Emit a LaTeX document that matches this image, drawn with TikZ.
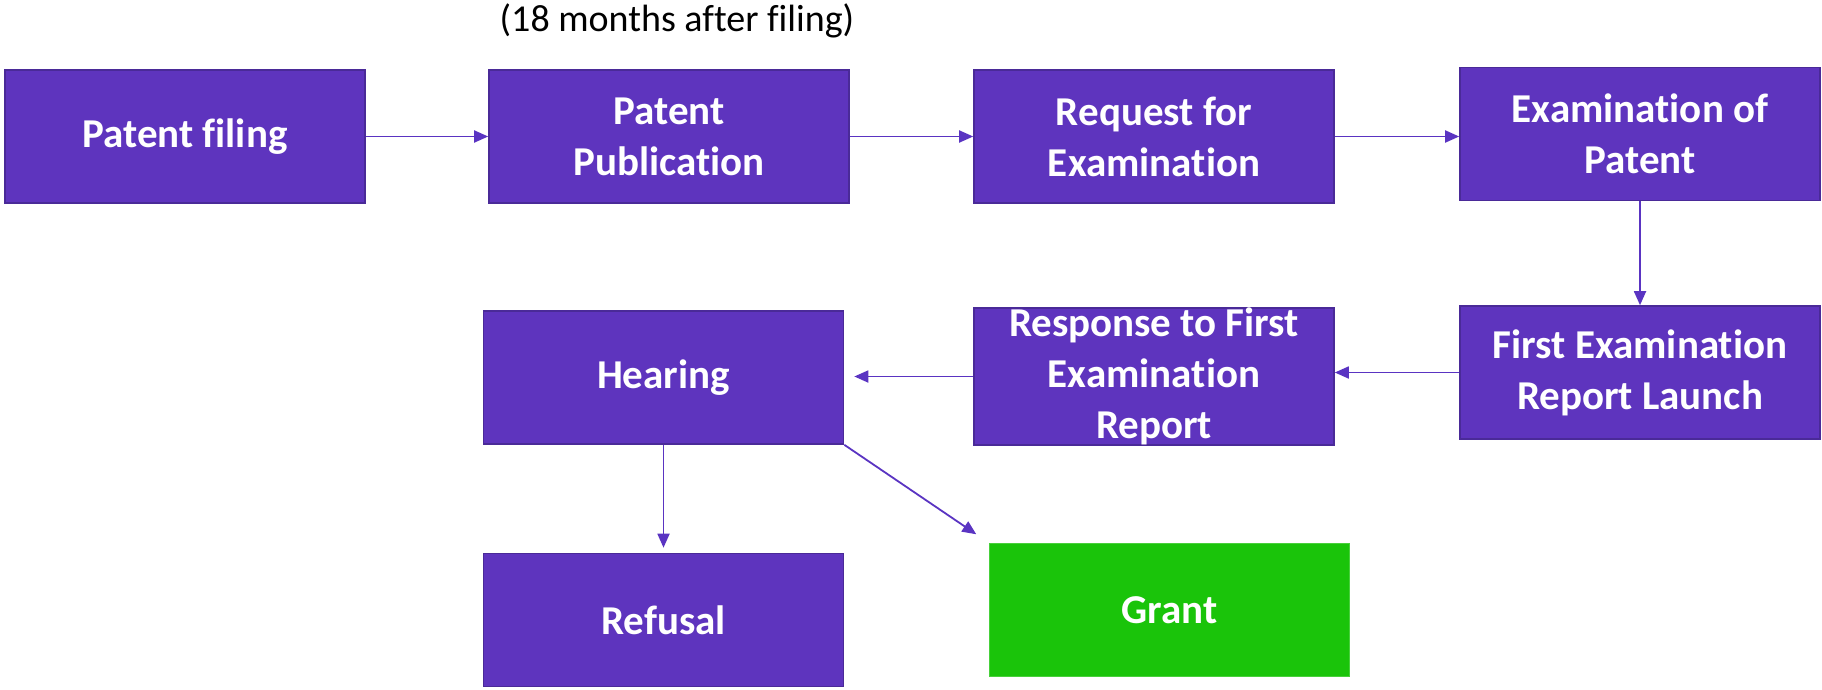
\documentclass[tikz,border=0pt]{standalone}
\usepackage{fontspec}
\setmainfont[RawFeature=-liga]{Carlito}
\usetikzlibrary{arrows.meta}
\definecolor{boxfill}{HTML}{5E34BE}
\definecolor{boxline}{HTML}{4A2A98}
\definecolor{flowline}{HTML}{5A34C2}
\definecolor{grantfill}{HTML}{1AC40A}
\begin{document}
\begin{tikzpicture}[x=1pt,y=-1pt,
  stage/.style={rectangle, draw=boxline, line width=1.6pt, fill=boxfill,
    minimum width=360pt, minimum height=133pt, inner sep=0pt,
    text=white, align=center, font=\fontsize{41}{51}\selectfont\bfseries},
  grantbox/.style={stage, draw=grantfill!80!white, fill=grantfill},
  flow/.style={draw=flowline, line width=1.8pt,
    -{Triangle[length=14pt,width=12pt]}}]
\useasboundingbox (0,0) rectangle (1822,690);

\node[font=\fontsize{38}{46}\selectfont] (note) at (677,21) {(18 months after filing)};

\node[stage] (filing) at (185,136.5) {Patent filing};
\node[stage] (pub)    at (669,136.5) {Patent\\Publication};
\node[stage] (req)    at (1154,136.5) {Request for\\Examination};
\node[stage] (exam)   at (1640,134) {Examination of\\Patent};
\node[stage] (fer)    at (1640,372.5) {First Examination\\Report Launch};
\node[stage] (resp)   at (1154,376.5) {Response to First\\Examination\\Report};
\node[stage] (hear)   at (663.5,377.5) {Hearing};
\node[stage] (ref)    at (663.5,620) {Refusal};
\node[grantbox] (grant) at (1169.5,610) {Grant};

\draw[flow] (filing.east) -- (pub.west);
\draw[flow] (pub.east) -- (req.west);
\draw[flow] (req.east) -- (req.east -| exam.west);
\draw[flow] (exam.south) -- (fer.north);
\draw[flow] (fer.west) -- (fer.west -| resp.east);
\draw[flow, shorten >=10pt] (resp.west) -- (resp.west -| hear.east);
\draw[flow, shorten >=5pt] (hear.south) -- (ref.north);
\draw[flow, shorten >=15pt] (hear.south east) -- (grant.north west);
\end{tikzpicture}
\end{document}
